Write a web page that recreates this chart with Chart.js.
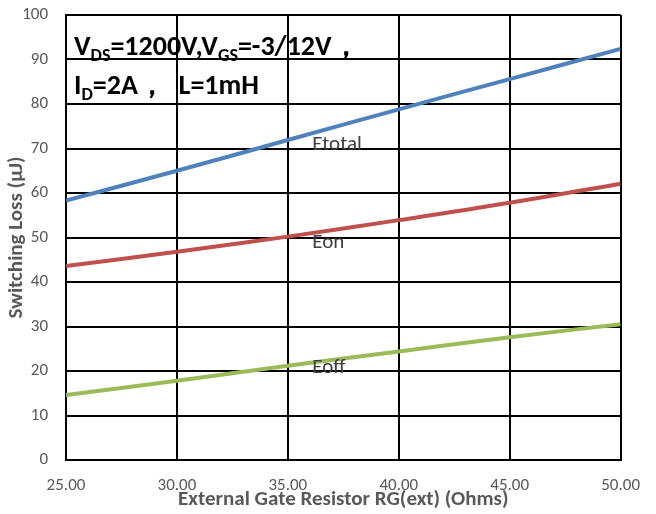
<!DOCTYPE html>
<html>
<head>
<meta charset="utf-8">
<script src="https://cdn.jsdelivr.net/npm/chart.js@4.4.1/dist/chart.umd.min.js"></script>
<style>
  html, body { margin: 0; padding: 0; background: #fff; }
  #wrap { width: 656px; height: 514px; }
</style>
</head>
<body>
<div id="wrap"><canvas id="myChart" width="656" height="514"></canvas></div>
<script>
// gate resistance (ohms) and switching energies (uJ)
const rg = [25, 30, 35, 40, 45, 50];
const eTotal = [58.3, 65.0, 71.9, 78.8, 85.6, 92.4];
const eOn = [43.6, 46.8, 50.2, 53.9, 57.8, 62.1];
const eOff = [14.6, 17.8, 21.2, 24.4, 27.6, 30.5];
const seriesNames = ['Etotal', 'Eon', 'Eoff'];
const seriesColors = ['#4F81BD', '#C0504D', '#9BBB59'];

const FONT = "Carlito, Lato, 'Open Sans', sans-serif";

function toPoints(ys) {
    return rg.map((x, i) => ({ x: x, y: ys[i] }));
}

// curve names written next to each line, and the test-condition box
const labelPlugin = {
    id: 'curveLabels',
    afterDatasetsDraw(chart, args, opts) {
        const ctx = chart.ctx;
        const xs = chart.scales.x, ys = chart.scales.y;
        ctx.save();
        ctx.fillStyle = '#404040';
        ctx.font = "21px " + FONT;
        ctx.textBaseline = 'alphabetic';
        opts.names.forEach((name, i) => {
            ctx.fillText(name, xs.getPixelForValue(opts.x), ys.getPixelForValue(opts.y[i]));
        });

        // conditions text with subscripts
        ctx.fillStyle = '#000';
        const big = "bold 28px " + FONT, small = "bold 18px " + FONT;
        function runs(parts, x, y) {
            parts.forEach(p => {
                ctx.font = p[1] ? small : big;
                ctx.fillText(p[0], x, y + (p[1] ? 6 : 0));
                x += ctx.measureText(p[0]).width;
            });
        }
        const left = chart.chartArea.left + 8;
        runs([['V', 0], ['DS', 1], ['=1200V,V', 0], ['GS', 1], ['=-3/12V，', 0]], left, 55);
        runs([['I', 0], ['D', 1], ['=2A，  L=1mH', 0]], left, 94);
        ctx.restore();
    }
};

new Chart(document.getElementById('myChart').getContext('2d'), {
    type: 'line',
    data: {
        datasets: [eTotal, eOn, eOff].map((d, i) => ({
            label: seriesNames[i],
            data: toPoints(d),
            borderColor: seriesColors[i],
            backgroundColor: seriesColors[i],
            borderWidth: 4,
            pointRadius: 0,
            tension: 0.4,
            fill: false
        }))
    },
    options: {
        responsive: false,
        animation: false,
        layout: { padding: { left: 0, top: 15, right: 35, bottom: 0 } },
        plugins: {
            legend: { display: false },
            tooltip: { enabled: false },
            curveLabels: {
                names: seriesNames,
                x: 36.1,
                y: [69.7, 47.6, 19.6]
            }
        },
        scales: {
            x: {
                type: 'linear',
                min: 25,
                max: 50,
                afterFit(scale) { scale.height = 54; },
                ticks: {
                    stepSize: 5,
                    padding: 16,
                    color: '#595959',
                    font: { family: FONT, size: 17 },
                    callback: v => v.toFixed(2),
                    maxRotation: 0
                },
                grid: { color: '#000', lineWidth: 2, drawTicks: false },
                border: { color: '#000', width: 2 },
                title: {
                    display: true,
                    text: 'External Gate Resistor RG(ext) (Ohms)',
                    color: '#595959',
                    font: { family: FONT, size: 21, weight: 'bold' },
                    padding: { top: 0, bottom: 2 }
                }
            },
            y: {
                min: 0,
                max: 100,
                afterFit(scale) {
                    scale.width = 66;
                    scale.paddingTop = 0;
                    scale.paddingBottom = 0;
                },
                ticks: {
                    stepSize: 10,
                    padding: 18,
                    color: '#595959',
                    font: { family: FONT, size: 17 }
                },
                grid: { color: '#000', lineWidth: 2, drawTicks: false },
                border: { color: '#000', width: 2 },
                title: {
                    display: true,
                    text: 'Switching Loss (μJ)',
                    color: '#595959',
                    font: { family: FONT, size: 21, weight: 'bold' },
                    padding: { top: 4, bottom: 0 }
                }
            }
        }
    },
    plugins: [labelPlugin]
});
</script>
</body>
</html>
